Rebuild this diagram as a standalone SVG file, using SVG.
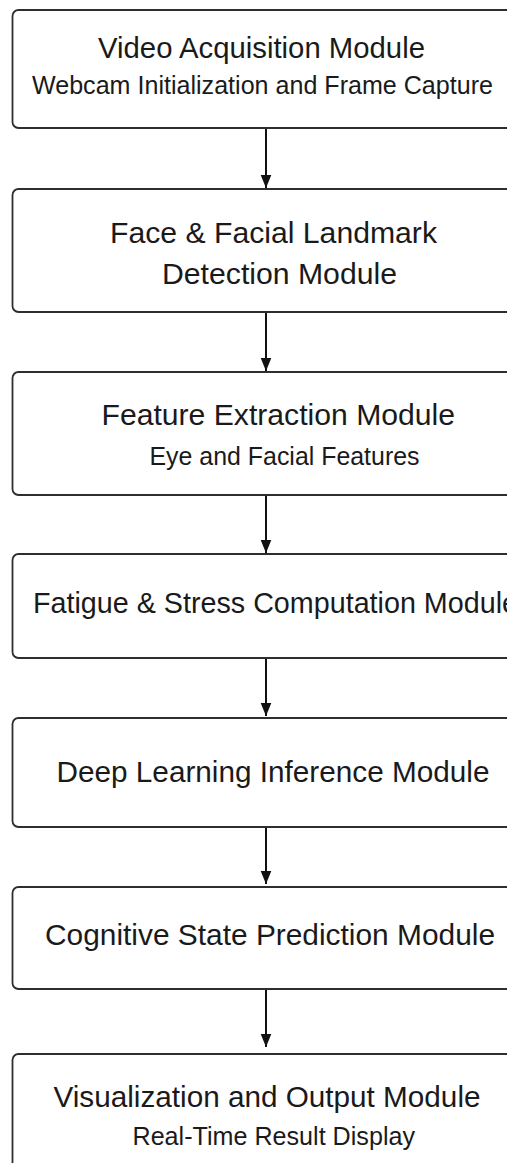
<svg xmlns="http://www.w3.org/2000/svg" width="507" height="1163" viewBox="0 0 507 1163">
<style>
.box{fill:#fff;stroke:#2e2e2e;stroke-width:1.8}
.t{font-family:"Liberation Sans",Arial,sans-serif;font-size:30px;fill:#1a1a1a}
.s{font-family:"Liberation Sans",Arial,sans-serif;font-size:25px;fill:#1a1a1a}
.c{stroke:#111;stroke-width:2;fill:none}
</style>
<defs>
<marker id="ah2" markerUnits="userSpaceOnUse" markerWidth="13" markerHeight="16" refX="16" refY="6.5" orient="auto" viewBox="0 0 16 13">
<path d="M0,0 L16,6.5 L0,13 Z" fill="#111"/>
</marker>
</defs>
<rect width="507" height="1163" fill="#fff"/>
<g id="connectors">
<line class="c" x1="266" y1="128" x2="266" y2="188" marker-end="url(#ah2)"/>
<line class="c" x1="266" y1="312" x2="266" y2="371" marker-end="url(#ah2)"/>
<line class="c" x1="266" y1="495" x2="266" y2="553" marker-end="url(#ah2)"/>
<line class="c" x1="266" y1="658" x2="266" y2="716" marker-end="url(#ah2)"/>
<line class="c" x1="266" y1="827" x2="266" y2="884" marker-end="url(#ah2)"/>
<line class="c" x1="266" y1="989" x2="266" y2="1047" marker-end="url(#ah2)"/>
</g>
<g id="video-acquisition">
<rect class="box" x="12.5" y="10" width="506" height="118" rx="6"/>
<text class="t" x="98" y="57.5" textLength="327" lengthAdjust="spacingAndGlyphs">Video Acquisition Module</text>
<text class="s" x="32" y="94" textLength="461" lengthAdjust="spacingAndGlyphs">Webcam Initialization and Frame Capture</text>
</g>
<g id="face-landmark">
<rect class="box" x="12.5" y="189" width="506" height="123" rx="6"/>
<text class="t" x="110" y="243" textLength="327" lengthAdjust="spacingAndGlyphs">Face &amp; Facial Landmark</text>
<text class="t" x="162" y="284" textLength="235" lengthAdjust="spacingAndGlyphs">Detection Module</text>
</g>
<g id="feature-extraction">
<rect class="box" x="12.5" y="372" width="506" height="123" rx="6"/>
<text class="t" x="101.5" y="425" textLength="353.5" lengthAdjust="spacingAndGlyphs">Feature Extraction Module</text>
<text class="s" x="149.5" y="465" textLength="270" lengthAdjust="spacingAndGlyphs">Eye and Facial Features</text>
</g>
<g id="fatigue-stress">
<rect class="box" x="12.5" y="554" width="506" height="104" rx="6"/>
<text class="t" x="33" y="613" textLength="485" lengthAdjust="spacingAndGlyphs">Fatigue &amp; Stress Computation Module</text>
</g>
<g id="deep-learning">
<rect class="box" x="12.5" y="718" width="506" height="109" rx="6"/>
<text class="t" x="56.5" y="781.5" textLength="433" lengthAdjust="spacingAndGlyphs">Deep Learning Inference Module</text>
</g>
<g id="cognitive-state">
<rect class="box" x="12.5" y="887" width="506" height="102" rx="6"/>
<text class="t" x="45" y="945" textLength="450" lengthAdjust="spacingAndGlyphs">Cognitive State Prediction Module</text>
</g>
<g id="visualization-output">
<rect class="box" x="12.5" y="1054" width="506" height="130" rx="6"/>
<text class="t" x="53.5" y="1106.5" textLength="427" lengthAdjust="spacingAndGlyphs">Visualization and Output Module</text>
<text class="s" x="132.5" y="1145" textLength="282.5" lengthAdjust="spacingAndGlyphs">Real-Time Result Display</text>
</g>
</svg>
